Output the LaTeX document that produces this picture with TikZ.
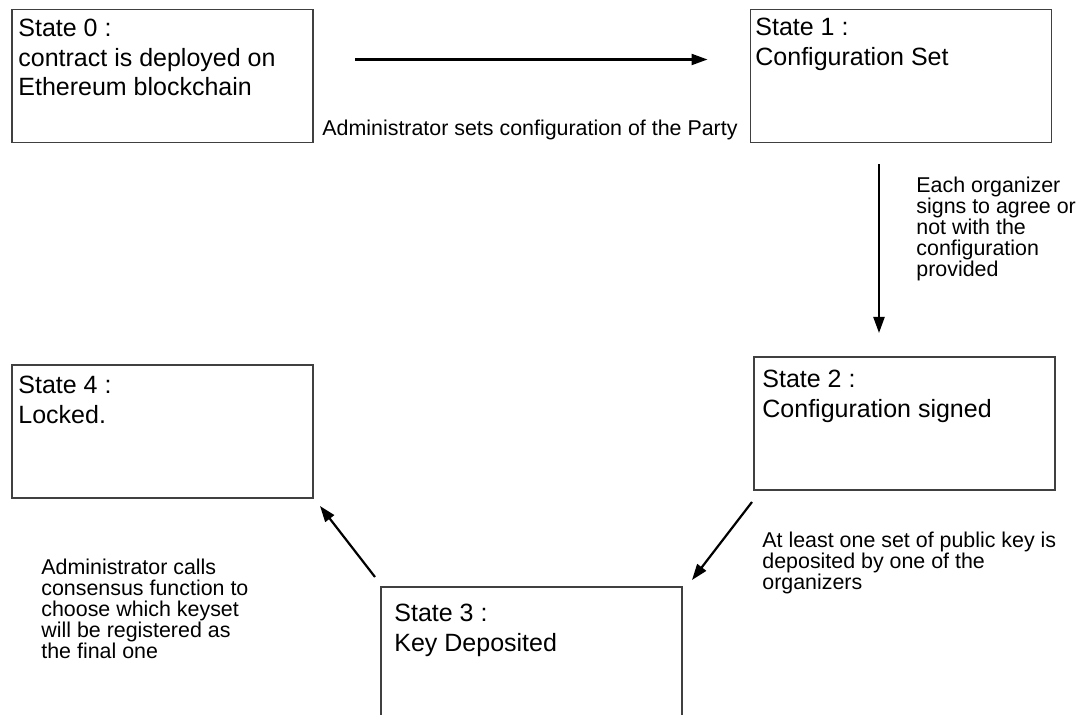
\documentclass[tikz,border=0pt]{standalone}
\usepackage{fontspec}
\setmainfont{Liberation Sans}
\usetikzlibrary{arrows.meta}

\begin{document}
\begin{tikzpicture}[x=0.5pt,y=-0.5pt,
   state/.style={draw=black!75,line width=0.7pt,rectangle,inner sep=0pt,outer sep=0pt,minimum width=150.5pt,minimum height=66.5pt},
   txt/.style={anchor=north west,inner sep=0pt,align=left,font=\fontsize{12.5}{14.75}\selectfont},
   note/.style={anchor=north west,inner sep=0pt,align=left,font=\fontsize{10.7}{10.5}\selectfont},
   flow/.style={-{Triangle[length=8pt,width=5.5pt]},line width=1.1pt}]
   \clip (0,0) rectangle (1080,715);
   \node[state] (s0) at (162.5,76)  {};
   \node[state] (s1) at (901,76)    {};
   \node[state] (s2) at (904.5,423.5) {};
   \node[state] (s3) at (531.5,653.5) {};
   \node[state] (s4) at (162.5,431.5) {};

   \node[txt] (t0) at (18,19)   {State 0 :\\contract is deployed on\\Ethereum blockchain};
   \node[txt] (t1) at (755,18)  {State 1 :\\Configuration Set};
   \node[txt] (t2) at (762,370) {State 2 :\\Configuration signed};
   \node[txt] (t3) at (394,604) {State 3 :\\Key Deposited};
   \node[txt] (t4) at (18,376)  {State 4 :\\Locked.};

   \node[note] (n01) at (322,120) {Administrator sets configuration of the Party};
   \node[note] (n12) at (916,177) {Each organizer\\signs to agree or\\not with the\\configuration\\provided};
   \node[note] (n23) at (762,532) {At least one set of public key is\\deposited by one of the\\organizers};
   \node[note] (n34) at (41,559)  {Administrator calls\\consensus function to\\choose which keyset\\will be registered as\\the final one};

   \path[flow] ([shift={(42,50)}]s0.north east) edge ([shift={(-43,50)}]s1.north west);
   \path[flow] ([shift={(-22,22)}]s1.south) edge ([shift={(-25.5,-24)}]s2.north);
   \path[flow] ([shift={(-2,12)}]s2.south west) edge ([shift={(10,-7)}]s3.north east);
   \path[flow] ([shift={(-6,-10)}]s3.north west) edge ([shift={(7,8)}]s4.south east);
\end{tikzpicture}
\end{document}
